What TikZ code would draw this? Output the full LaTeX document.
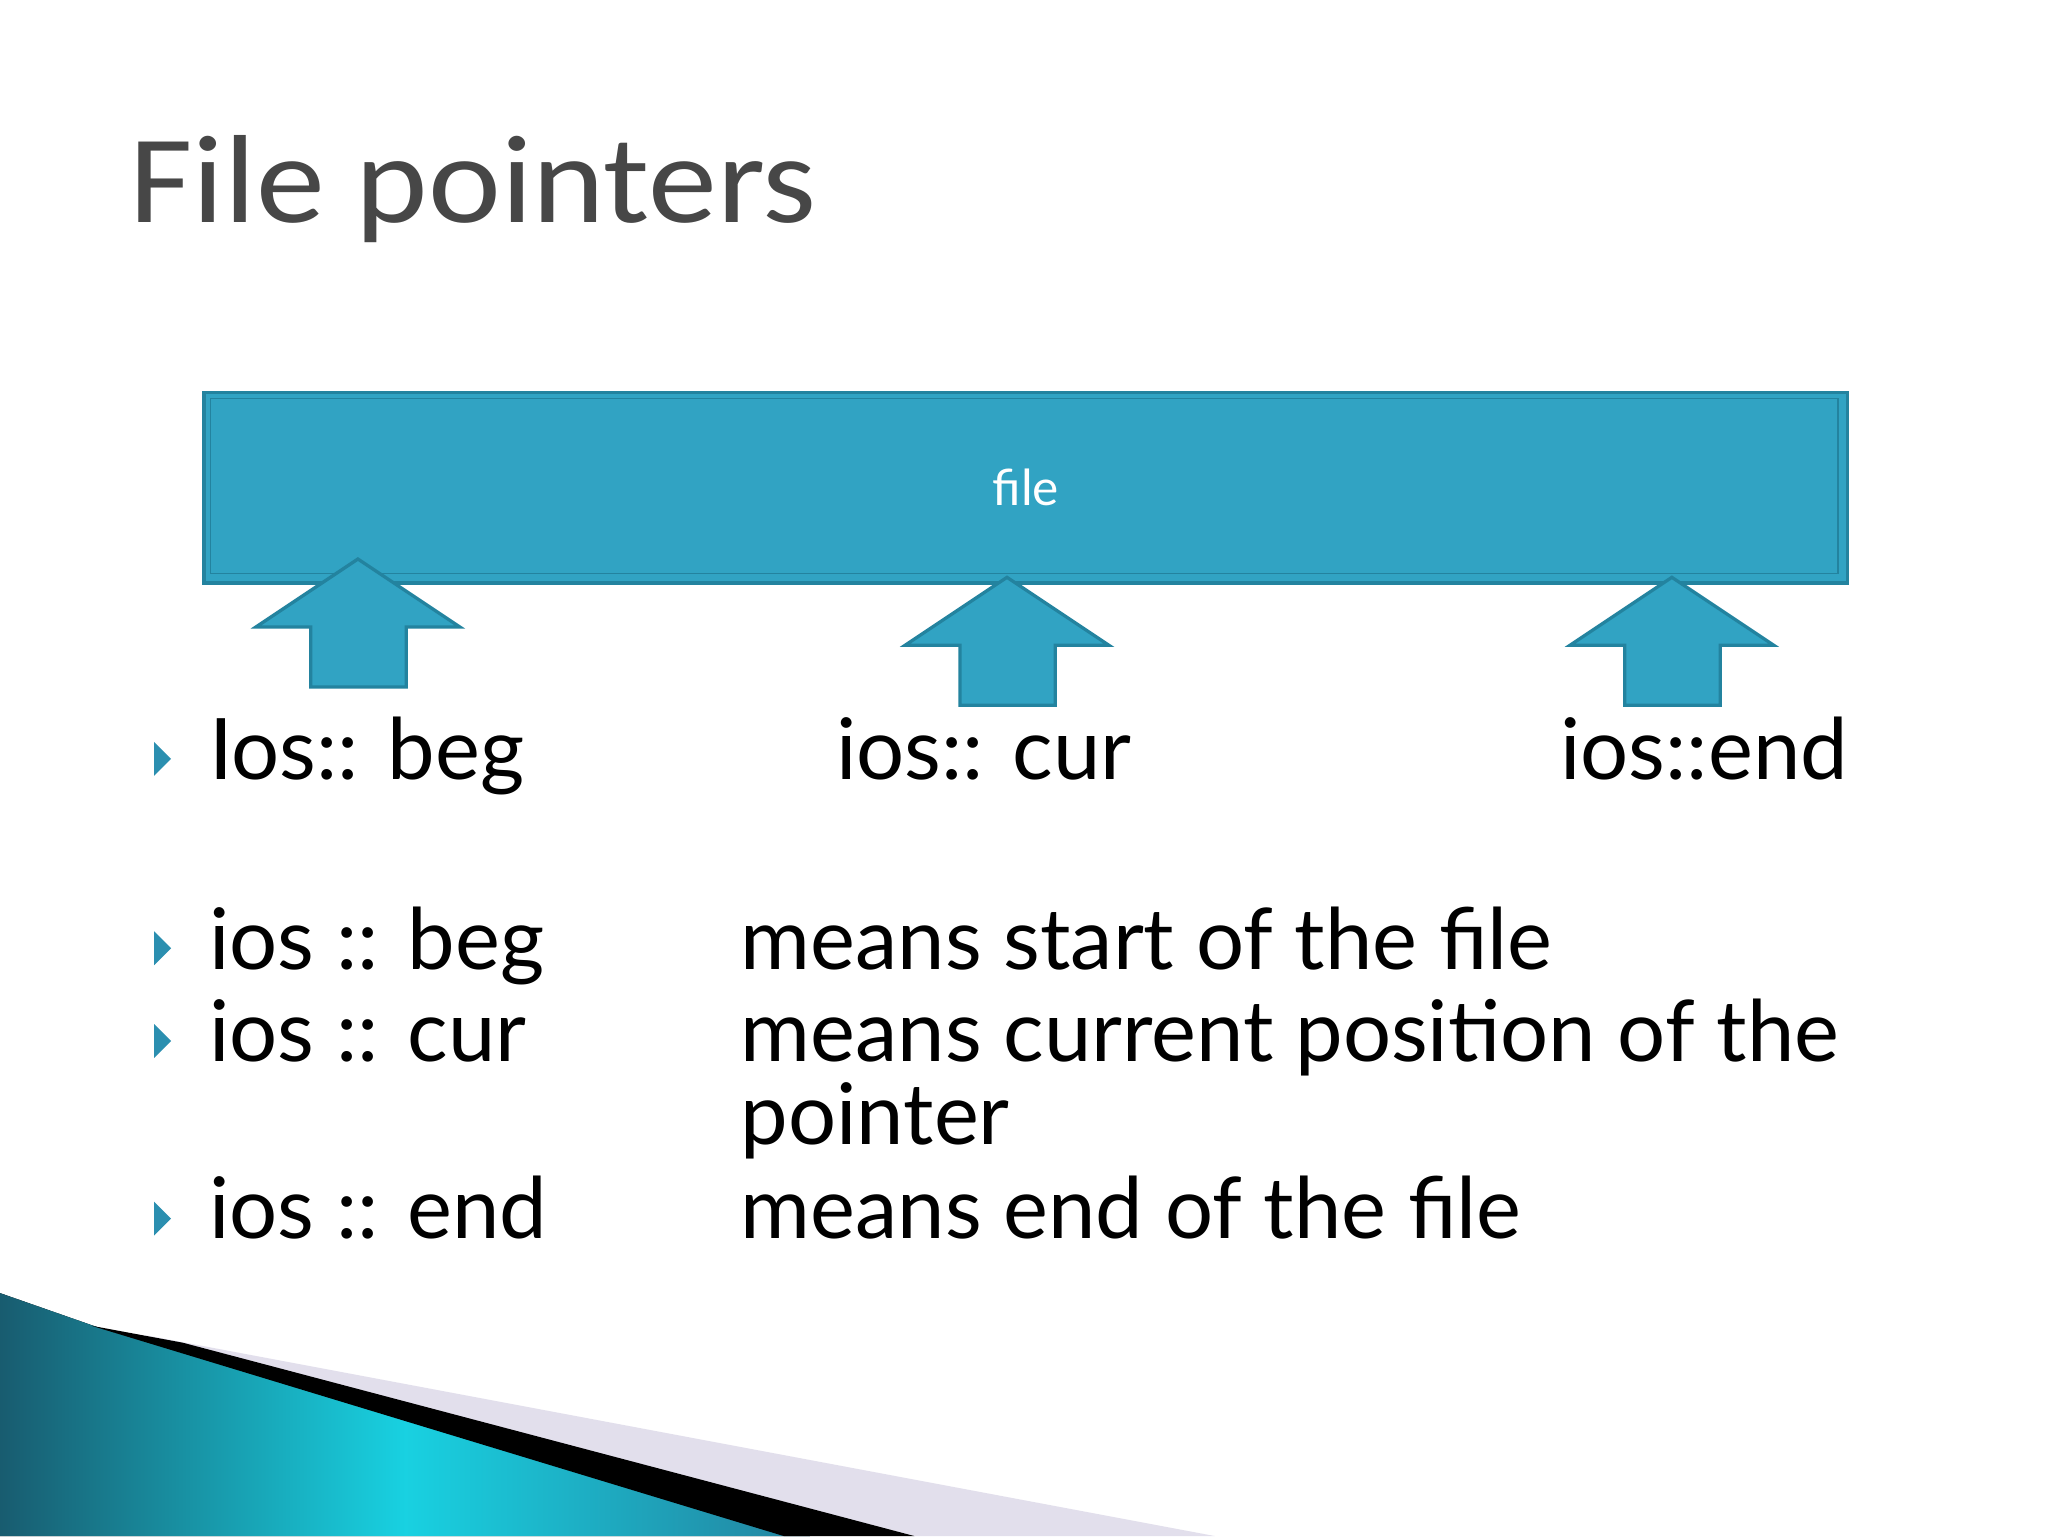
\documentclass[tikz,border=0pt]{standalone}
\usepackage{fontspec}
\setmainfont{Lato}
\newfontfamily\titlefont{Carlito}
\begin{document}
\begin{tikzpicture}[x=1pt,y=-1pt,
  blk/.style={fill=fileblue,draw=fileedge,line width=3pt,line join=miter},
  bul/.style={fill=bulletc},
  body/.style={anchor=base west,font=\fontsize{65}{72}\selectfont,text=black,inner sep=0pt}]
\definecolor{fileblue}{HTML}{31A3C3}
\definecolor{fileedge}{HTML}{23839F}
\definecolor{bulletc}{HTML}{2B8FB0}
\useasboundingbox (0,0) rectangle (1568,1176);
\fill[white] (0,0) rectangle (1568,1176);
% title
\node (title) [anchor=base west,inner sep=0pt,font=\titlefont\fontsize{96}{100}\selectfont,text=black!72,xscale=1.1,transform shape] at (99,170) {File pointers};
% file box
\node (file) [blk,minimum width=1258,minimum height=146,anchor=north west,inner sep=0pt] at (155,299) {};
\draw[fileedge,line width=1.2pt] (161,305) rectangle (1407,439);
\node[text=white,font=\fontsize{38}{40}\selectfont] at (file.center) {file};
% arrows
\foreach \n/\x/\t in {a1/274/428,a2/771/442,a3/1280/442}{
  \draw[blk,line width=2.5pt] (\x,\t) -- (\x+78,\t+52) -- (\x+37,\t+52) -- (\x+37,\t+98) -- (\x-36,\t+98) -- (\x-36,\t+52) -- (\x-78,\t+52) -- cycle;
  \coordinate (\n) at (\x,\t);
}
% bullets
\foreach \y in {581,726,797,933}{
  \fill[bul] (118,\y-13) -- (131,\y) -- (118,\y+13) -- cycle;
}
\node (t1) [body] at (160,597) {Ios:: beg};
\node (t2) [body] at (640,597) {ios:: cur};
\node (t3) [body,anchor=base east] at (1415,597) {ios::end};
\node (b1) [body] at (160,742) {ios :: beg};
\node (b2) [body] at (160,813) {ios :: cur};
\node (b3) [body] at (160,948) {ios :: end};
\node (d1) [body] at (567,742) {means start of the file};
\node (d2) [body] at (567,813) {means current position of the};
\node (d2b) [body] at (567,876) {pointer};
\node (d3) [body] at (567,948) {means end of the file};
% swoosh
\fill[cyan!10!blue!8!white!90!gray] (110,1022) -- (930,1176) -- (700,1176) -- cycle;
\fill[left color=fileedge!70!black,right color=fileedge,middle color=cyan!50!fileblue] (0,990) -- (80,1018) -- (620,1176) -- (0,1176) -- cycle;
\fill[black] (70,1015) -- (140,1028) -- (700,1176) -- (600,1176) -- cycle;
\end{tikzpicture}
\end{document}
